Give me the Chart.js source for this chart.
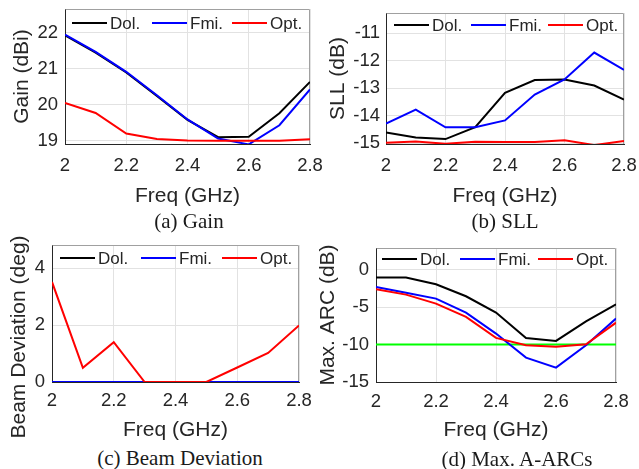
<!DOCTYPE html>
<html>
<head>
<meta charset="utf-8">
<script src="https://cdn.jsdelivr.net/npm/chart.js@4.4.1/dist/chart.umd.min.js"></script>
<style>
  body { margin: 0; background: #fff; }
  #fig { position: relative; width: 639px; height: 469px; overflow: hidden; background: #fff; }
  canvas { position: absolute; }
  .cap {
    position: absolute; transform: translateX(-50%); white-space: nowrap;
    font-family: "Liberation Serif", "Times New Roman", serif; font-size: 21px;
    line-height: 24px; color: #1a1a1a;
  }
</style>
</head>
<body>
<div id="fig">
  <canvas id="cGain" width="340" height="210" style="left:0px;top:0px"></canvas>
  <canvas id="cSll" width="340" height="210" style="left:320px;top:0px"></canvas>
  <canvas id="cDev" width="330" height="225" style="left:0px;top:220px"></canvas>
  <canvas id="cArc" width="340" height="210" style="left:310px;top:235px"></canvas>
  <div class="cap" style="left:189px;top:209px">(a) Gain</div>
  <div class="cap" style="left:505px;top:209px">(b) SLL</div>
  <div class="cap" style="left:180px;top:446px">(c) Beam Deviation</div>
  <div class="cap" style="left:517px;top:447px">(d) Max. A-ARCs</div>
</div>
<script>
// donnees
const freq = [2.0, 2.1, 2.2, 2.3, 2.4, 2.5, 2.6, 2.7, 2.8];
const freqTicks = [2, 2.2, 2.4, 2.6, 2.8];
const seriesNames = ['Dol.', 'Fmi.', 'Opt.'];
const seriesColors = ['#000000', '#0000ff', '#ff0000'];

// (a) gain
const gainDol = [21.92, 21.44, 20.89, 20.24, 19.58, 19.10, 19.11, 19.76, 20.63];
const gainFmi = [21.94, 21.46, 20.91, 20.26, 19.59, 19.06, 18.90, 19.43, 20.42];
const gainOpt = [20.05, 19.77, 19.20, 19.05, 19.01, 19.00, 19.00, 19.00, 19.04];
const gainTicks = [19, 20, 21, 22];

// (b) SLL
const sllDol = [-14.61, -14.79, -14.85, -14.42, -13.17, -12.70, -12.68, -12.90, -13.41];
const sllFmi = [-14.29, -13.78, -14.42, -14.42, -14.17, -13.23, -12.68, -11.70, -12.33];
const sllOpt = [-14.98, -14.94, -15.02, -14.95, -14.96, -14.96, -14.89, -15.07, -14.92];
const sllTicks = [-15, -14, -13, -12, -11];

// (c) beam deviation
const devDol = [0, 0, 0, 0, 0, 0, 0, 0, 0];
const devFmi = [0, 0, 0, 0, 0, 0, 0, 0, 0];
const devOpt = [3.52, 0.50, 1.40, 0, 0, 0, 0.51, 1.02, 1.99];
const devTicks = [0, 2, 4];

// (d) max A-ARC
const arcDol = [-1.07, -1.07, -1.96, -3.56, -5.74, -9.12, -9.52, -6.90, -4.63];
const arcFmi = [-2.31, -3.10, -3.87, -5.74, -8.54, -11.75, -13.08, -10.10, -6.54];
const arcOpt = [-2.63, -3.34, -4.54, -6.32, -9.12, -10.10, -10.28, -9.97, -7.08];
const arcLimit = [-10, -10, -10, -10, -10, -10, -10, -10, -10];
const arcTicks = [-15, -10, -5, 0];

Chart.defaults.font.family = '"Liberation Sans", Arial, sans-serif';
Chart.defaults.color = '#262626';

// legende dans la zone du graphe, sans cadre
const inlineLegend = {
    id: 'inlineLegend',
    afterDatasetsDraw(chart, args, opts) {
        const ctx = chart.ctx;
        const area = chart.chartArea;
        const y = area.top + opts.dy;
        ctx.save();
        ctx.font = '17px "Liberation Sans", Arial, sans-serif';
        ctx.textBaseline = 'middle';
        ctx.textAlign = 'left';
        seriesNames.forEach((name, i) => {
            const x = area.left + opts.dx + i * opts.step;
            ctx.strokeStyle = seriesColors[i];
            ctx.lineWidth = 2;
            ctx.beginPath();
            ctx.moveTo(x, y);
            ctx.lineTo(x + 35, y);
            ctx.stroke();
            ctx.fillStyle = '#262626';
            ctx.fillText(name, x + 38, y + 1);
        });
        ctx.restore();
    }
};

// cadre haut et droite
const boxFrame = {
    id: 'boxFrame',
    beforeDatasetsDraw(chart) {
        const ctx = chart.ctx;
        const a = chart.chartArea;
        ctx.save();
        ctx.strokeStyle = '#a0a0a0';
        ctx.lineWidth = 1;
        ctx.beginPath();
        ctx.moveTo(Math.round(a.left) + 0.5, Math.round(a.top) + 0.5);
        ctx.lineTo(Math.round(a.right) - 0.5, Math.round(a.top) + 0.5);
        ctx.lineTo(Math.round(a.right) - 0.5, Math.round(a.bottom));
        ctx.stroke();
        ctx.restore();
    }
};

// titre vertical place a la main (panneau c, decale vers le bas)
const sideLabel = {
    id: 'sideLabel',
    afterDraw(chart, args, opts) {
        if (!opts.text) return;
        const ctx = chart.ctx;
        ctx.save();
        ctx.translate(opts.x, opts.y);
        ctx.rotate(-Math.PI / 2);
        ctx.font = '21px "Liberation Sans", Arial, sans-serif';
        ctx.fillStyle = '#262626';
        ctx.textAlign = 'center';
        ctx.textBaseline = 'middle';
        ctx.fillText(opts.text, 0, 0);
        ctx.restore();
    }
};

function series(values, color, order) {
    return {
        data: values.map((v, i) => ({x: freq[i], y: v})),
        borderColor: color,
        borderWidth: 2,
        pointRadius: 0,
        tension: 0,
        fill: false,
        order: order
    };
}

function makePanel(id, p) {
    const datasets = [
        Object.assign(series(p.dol, seriesColors[0], 3), {label: 'Dol.'}),
        Object.assign(series(p.fmi, seriesColors[1], 2), {label: 'Fmi.'}),
        Object.assign(series(p.opt, seriesColors[2], 1), {label: 'Opt.'})
    ];
    if (p.extra) datasets.push(Object.assign(series(p.extra, '#00ff00', 4), {label: 'limit'}));

    new Chart(document.getElementById(id), {
        type: 'line',
        data: {datasets: datasets},
        options: {
            responsive: false,
            animation: false,
            devicePixelRatio: 1,
            layout: {autoPadding: false, padding: {left: 0, top: p.top, right: p.right, bottom: 0}},
            plugins: {
                legend: {display: false},
                tooltip: {enabled: false},
                inlineLegend: p.legend,
                sideLabel: p.side || {}
            },
            scales: {
                x: {
                    type: 'linear',
                    min: 2, max: 2.8,
                    afterBuildTicks: s => { s.ticks = freqTicks.map(v => ({value: v})); },
                    afterFit: s => { s.height = p.xh; },
                    ticks: {
                        padding: p.xpad,
                        font: {size: 18.5},
                        maxRotation: 0,
                        callback: v => String(+v.toFixed(1))
                    },
                    grid: {color: '#e2e2e2', drawTicks: false},
                    border: {color: '#262626', width: 1},
                    title: {
                        display: true, text: 'Freq (GHz)',
                        font: {size: 21}, padding: {top: 0, bottom: p.xtp}
                    }
                },
                y: {
                    min: p.ymin, max: p.ymax,
                    afterBuildTicks: s => { s.ticks = p.yticks.map(v => ({value: v})); },
                    afterFit: s => { s.width = p.yw; },
                    ticks: {padding: p.ypad, font: {size: 18.5, lineHeight: 0.2}},
                    grid: {color: '#e2e2e2', drawTicks: false},
                    border: {color: '#262626', width: 1},
                    title: {
                        display: !p.side, text: p.ylabel,
                        font: {size: 21}, padding: {top: p.ytp, bottom: 0}
                    }
                }
            }
        },
        plugins: [boxFrame, inlineLegend, sideLabel]
    });
}

makePanel('cGain', {
    dol: gainDol, fmi: gainFmi, opt: gainOpt,
    ymin: 18.91, ymax: 22.65, yticks: gainTicks, ylabel: 'Gain (dBi)',
    top: 9, right: 30, yw: 65, xh: 66, ytp: 10, xtp: 1.5, ypad: 7, xpad: 11,
    legend: {dx: 7, dy: 14, step: 80}
});

makePanel('cSll', {
    dol: sllDol, fmi: sllFmi, opt: sllOpt,
    ymin: -15.03, ymax: -10.26, yticks: sllTicks, ylabel: 'SLL (dB)',
    top: 13, right: 36, yw: 66, xh: 66, ytp: 6, xtp: 1.5, ypad: 6, xpad: 11,
    legend: {dx: 8, dy: 12, step: 77}
});

makePanel('cDev', {
    dol: devDol, fmi: devFmi, opt: devOpt,
    ymin: 0, ymax: 4.82, yticks: devTicks, ylabel: 'Beam Deviation (deg)',
    top: 25, right: 31, yw: 52, xh: 63, ytp: 6, xtp: 2.4, ypad: 7, xpad: 8,
    legend: {dx: 8, dy: 13, step: 81},
    side: {text: 'Beam Deviation (deg)', x: 19, y: 117}
});

makePanel('cArc', {
    dol: arcDol, fmi: arcFmi, opt: arcOpt, extra: arcLimit,
    ymin: -15, ymax: 2.88, yticks: arcTicks, ylabel: 'Max. ARC (dB)',
    top: 13, right: 34, yw: 66, xh: 63, ytp: 5.4, xtp: 2.4, ypad: 7, xpad: 8.5,
    legend: {dx: 6, dy: 11, step: 78}
});
</script>
</body>
</html>
